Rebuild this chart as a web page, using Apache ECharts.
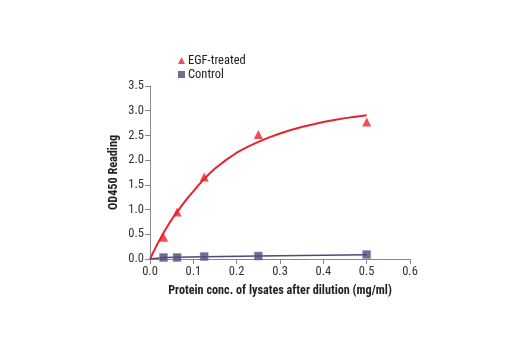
<!DOCTYPE html>
<html>
<head>
<meta charset="utf-8">
<script src="https://cdn.jsdelivr.net/npm/echarts@6/dist/echarts.min.js"></script>
<style>
  html, body { margin: 0; padding: 0; background: #fff; }
  #chart { width: 520px; height: 350px; }
</style>
</head>
<body>
<div id="chart"></div>
<script>
// Protein concentration after dilution (mg/ml)
const concentrations = [0.03125, 0.0625, 0.125, 0.25, 0.5];
// OD450 readings
const egfTreated = [0.44, 0.95, 1.66, 2.52, 2.77];
const control = [0.03, 0.03, 0.05, 0.06, 0.09];

// Fitted curve through the EGF-treated readings
const egfFitX = [0, 0.005, 0.01, 0.015, 0.02, 0.025, 0.03125, 0.0375, 0.045, 0.0525, 0.0625,
                 0.075, 0.0875, 0.1, 0.1125, 0.125, 0.1375, 0.15, 0.175, 0.2, 0.225, 0.25,
                 0.275, 0.3, 0.325, 0.35, 0.375, 0.4, 0.425, 0.45, 0.475, 0.5];
const egfFitY = [0, 0.09, 0.18, 0.27, 0.35, 0.43, 0.53, 0.62, 0.73, 0.83, 0.95,
                 1.10, 1.24, 1.37, 1.50, 1.62, 1.73, 1.83, 2.00, 2.15, 2.27, 2.37,
                 2.46, 2.54, 2.61, 2.67, 2.72, 2.77, 2.81, 2.85, 2.88, 2.91];
// Fitted line through the control readings
const controlFitX = [0, 0.03125, 0.0625, 0.125, 0.25, 0.5];
const controlFitY = [0.0, 0.03, 0.035, 0.045, 0.06, 0.085];

const xTicks = ['0.0', '0.1', '0.2', '0.3', '0.4', '0.5', '0.6'];
const yTicks = ['0.0', '0.5', '1.0', '1.5', '2.0', '2.5', '3.0', '3.5'];

const red = '#e8232b';
const navy = '#4a4a7c';
const font = '"Liberation Sans Narrow", "Roboto Condensed", "Liberation Sans", Arial, sans-serif';

const zip = (xs, ys) => xs.map((x, i) => [x, ys[i]]);

const chart = echarts.init(document.getElementById('chart'), null, { renderer: 'canvas' });
chart.setOption({
  animation: false,
  backgroundColor: '#ffffff',
  textStyle: { fontFamily: font },
  grid: { left: 150, right: 110, top: 86, bottom: 91 },
  legend: {
    data: [
      { name: 'EGF-treated', icon: 'triangle', itemStyle: { borderWidth: 0 } },
      { name: 'Control', icon: 'rect', itemStyle: { borderWidth: 0 } }
    ],
    orient: 'vertical',
    left: 173,
    top: 49,
    itemWidth: 7,
    itemHeight: 7,
    itemGap: 1,
    textStyle: { fontFamily: font, fontSize: 12.5, lineHeight: 12, color: '#222', padding: [0, 0, 0, -2] }
  },
  xAxis: {
    type: 'value',
    min: 0,
    max: 0.6,
    interval: 0.1,
    name: 'Protein conc. of lysates after dilution (mg/ml)',
    nameLocation: 'middle',
    nameGap: 26,
    nameTextStyle: { fontFamily: font, fontSize: 12.2, fontWeight: 'bold', color: '#222' },
    axisLine: { lineStyle: { color: '#8a8a8a', width: 1 } },
    axisTick: { length: 5, lineStyle: { color: '#8a8a8a' } },
    axisLabel: {
      fontFamily: font, fontSize: 12.5, color: '#333', margin: 6,
      formatter: (v) => xTicks[Math.round(v * 10)]
    },
    splitLine: { show: false }
  },
  yAxis: {
    type: 'value',
    min: 0,
    max: 3.5,
    interval: 0.5,
    name: 'OD450 Reading',
    nameLocation: 'middle',
    nameGap: 30,
    nameRotate: 90,
    nameTextStyle: { fontFamily: font, fontSize: 12.2, fontWeight: 'bold', color: '#222' },
    axisLine: { show: true, lineStyle: { color: '#8a8a8a', width: 1 } },
    axisTick: { show: true, length: 5, lineStyle: { color: '#8a8a8a' } },
    axisLabel: {
      fontFamily: font, fontSize: 12.5, color: '#333', margin: 6,
      formatter: (v) => yTicks[Math.round(v * 2)]
    },
    splitLine: { show: false }
  },
  series: [
    {
      name: 'EGF fit',
      type: 'line',
      data: zip(egfFitX, egfFitY),
      smooth: false,
      showSymbol: false,
      lineStyle: { color: red, width: 2, join: 'round' },
      z: 2
    },
    {
      name: 'Control fit',
      type: 'line',
      data: zip(controlFitX, controlFitY),
      smooth: false,
      showSymbol: false,
      lineStyle: { color: navy, width: 1.5 },
      z: 2
    },
    {
      name: 'EGF-treated',
      type: 'scatter',
      data: zip(concentrations, egfTreated),
      symbol: 'triangle',
      symbolSize: 9,
      itemStyle: { color: red },
      z: 3
    },
    {
      name: 'Control',
      type: 'scatter',
      data: zip(concentrations, control),
      symbol: 'rect',
      symbolSize: 8,
      itemStyle: { color: navy, borderColor: '#8a8aaa', borderWidth: 0.6 },
      z: 3
    }
  ]
});
</script>
</body>
</html>
